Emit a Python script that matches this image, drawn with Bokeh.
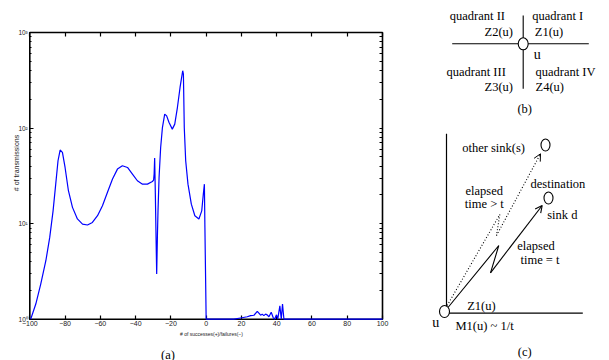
import math
from bokeh.plotting import figure
from bokeh.models import (Range1d, FixedTicker, LinearAxis, LogAxis, LogScale, Arrow, OpenHead)
from bokeh.embed import file_html
from bokeh.resources import INLINE
from bokeh.core.properties import value

# ---------------- panel (a) data ----------------
outcome = [-99.5, -96.6, -93.8, -90.9, -88.7, -86.8, -85.3, -84.0, -82.8, -81.5,
           -80.0, -78.1, -75.8, -73.0, -70.1, -67.3, -64.5, -61.6, -58.8, -56.0,
           -53.1, -50.3, -47.5, -44.6, -41.8, -39.0, -36.1, -33.3, -30.5, -29.8,
           -29.5, -29.2, -28.8, -28.4, -28.05, -27.6, -27.3, -26.7, -25.8, -24.8,
           -23.5, -22.4, -21.1, -19.2, -17.8, -16.3, -14.8, -13.3, -12.9, -12.4,
           -11.6, -10.3, -8.4, -6.4, -4.1, -2.5, -1.6, -1.0, -0.7, 0.0,
           12.0, 15.7, 19.5, 23.3, 25.2, 27.1, 29.0, 29.9, 30.9, 31.8,
           32.7, 33.7, 34.6, 35.6, 36.9, 38.0, 38.8, 39.9, 40.6, 41.8,
           42.6, 43.3, 44.1, 100.0]
transmissions = [1.0, 1.44, 2.33, 4.09, 7.17, 13.6, 25.9, 45.5, 58.9, 55.6,
                 38.7, 22.1, 14.8, 11.2, 9.9, 9.67, 10.3, 12.1, 15.4, 21.2,
                 29.3, 37.2, 40.3, 38.7, 33.0, 28.1, 25.9, 25.9, 27.6, 28.5,
                 33.0, 48.5, 20.0, 7.0, 2.97, 8.0, 13.6, 30.4, 62.6, 101.0,
                 140.0, 134.0, 115.0, 97.5, 110.0, 164.0, 266.0, 398.0, 367.0, 101.0,
                 45.5, 25.9, 16.0, 12.1, 11.2, 13.6, 20.4, 25.9, 9.1, 1.0,
                 1.0, 1.0, 1.03, 1.06, 1.09, 1.10, 1.21, 1.16, 1.10, 1.13,
                 1.09, 1.13, 1.11, 1.06, 1.18, 1.04, 1.0, 1.11, 1.0, 1.38,
                 1.0, 1.44, 1.0, 1.0]

x_min, x_max = -100, 100
y_min, y_max = 1, 1000
x_ticks = [-100, -80, -60, -40, -20, 0, 20, 40, 60, 80, 100]
y_ticks = [1, 10, 100, 1000]
y_tick_labels = ["10\u2070", "10\u00b9", "10\u00b2", "10\u00b3"]
y_minor_ticks = [2, 3, 4, 5, 6, 7, 8, 9, 20, 30, 40, 50, 60, 70, 80, 90,
                 200, 300, 400, 500, 600, 700, 800, 900]
x_label = "# of successes(+)/failures(\u2212)"
y_label = "# of transmissions"

# ---------------- panel (b) / (c) diagram content (page pixel space) ----------------
b_hline_x = [451.7, 588.3]
b_hline_y = [43.3, 43.3]
b_vline_x = [522.7, 522.7]
b_vline_y = [15.0, 88.3]
b_node = (522.7, 43.3)
b_texts = ["quadrant II", "Z2(u)", "quadrant I", "Z1(u)",
           "quadrant III", "Z3(u)", "quadrant IV", "Z4(u)"]
b_tx = [449.3, 484.0, 531.7, 534.3, 446.0, 484.0, 535.0, 535.0]
b_ty = [15.0, 31.7, 15.0, 31.7, 71.0, 86.0, 71.0, 86.0]
b_u = (533.3, 54.3)

c_vaxis_x = [446.0, 446.0]
c_vaxis_y = [133.3, 306.0]
c_haxis_x = [448.3, 582.3]
c_haxis_y = [312.7, 312.7]
c_nodes_x = [444.0, 545.0, 548.0]
c_nodes_y = [311.0, 144.5, 197.5]
c_nodes_w = [10.0, 9.0, 9.0]
c_nodes_h = [12.0, 12.0, 12.0]
solid_x = [447.5, 498.3, 490.0, 541.7]
solid_y = [307.0, 245.0, 272.3, 205.0]
dotted_x = [446.7, 499.3, 496.0, 540.0]
dotted_y = [305.0, 214.0, 235.0, 153.3]
c_texts = ["other sink(s)", "destination", "elapsed", "time > t", "sink d",
           "elapsed", "time = t", "Z1(u)", "M1(u) ~ 1/t"]
c_tx = [461.7, 530.0, 465.0, 464.3, 546.7, 516.7, 520.0, 466.7, 455.0]
c_ty = [147.3, 183.3, 190.0, 203.3, 214.3, 245.0, 259.0, 305.7, 325.0]
c_u = (431.7, 321.7)

panel_labels = ["(a)", "(b)", "(c)"]
panel_lx = [167.5, 524.2, 524.2]
panel_ly = [354.0, 108.3, 351.0]

SERIF = "Liberation Serif"
SANS = "Liberation Sans"

W, H = 609, 360
p = figure(width=W, height=H, x_range=Range1d(0, W), y_range=Range1d(H, 0),
           output_backend="svg", toolbar_location=None, min_border=0,
           x_axis_location=None, y_axis_location=None)
p.grid.visible = False
p.outline_line_color = None

# data space of panel (a): frame box spans x 29..382 px, y 32..318.7 px
px_per_unit = (382.0 - 29.3) / (x_max - x_min)
px_per_decade = (318.7 - 32.0) / 3.0
p.extra_x_ranges = {"ax": Range1d(x_min - 29.3 / px_per_unit, x_max + (W - 382.0) / px_per_unit)}
p.extra_y_ranges = {"ay": Range1d(10 ** (-(H - 318.7) / px_per_decade),
                                  10 ** (3 + 32.0 / px_per_decade))}
p.extra_y_scales = {"ay": LogScale()}

# axes box
p.quad(left=[x_min], right=[x_max], bottom=[y_min], top=[y_max], x_range_name="ax",
       y_range_name="ay", fill_color=None, line_color="black", line_width=1.6)

# the curve (drawn above the axes)
p.line(outcome, transmissions, x_range_name="ax", y_range_name="ay",
       line_color="#0000ff", line_width=1.2, level="annotation")


def base_axis(ax):
    ax.axis_line_color = None
    ax.major_tick_in = 4
    ax.major_tick_out = 0
    ax.major_tick_line_color = "black"
    ax.major_tick_line_width = 1.2
    ax.major_label_standoff = 2
    ax.major_label_text_font = SANS
    ax.major_label_text_color = "#222222"
    ax.minor_tick_in = 2
    ax.minor_tick_out = 0
    ax.minor_tick_line_color = "black"


bx = LinearAxis(x_range_name="ax", y_range_name="ay", fixed_location=y_min,
                bounds=(x_min, x_max), ticker=FixedTicker(ticks=x_ticks))
base_axis(bx)
bx.minor_tick_line_color = None
bx.major_label_text_font_size = "7px"
p.add_layout(bx, "below")

ly = LogAxis(x_range_name="ax", y_range_name="ay", fixed_location=x_min,
             bounds=(y_min, y_max), ticker=FixedTicker(ticks=y_ticks, minor_ticks=y_minor_ticks))
base_axis(ly)
ly.major_label_text_font_size = "6.5px"
ly.major_label_overrides = {t: s for t, s in zip(y_ticks, y_tick_labels)}
p.add_layout(ly, "left")

top = LinearAxis(x_range_name="ax", y_range_name="ay", fixed_location=y_max,
                 bounds=(x_min, x_max), ticker=FixedTicker(ticks=[], minor_ticks=x_ticks))
base_axis(top)
top.minor_tick_in = 4
top.minor_tick_line_width = 1.2
p.add_layout(top, "above")

ry = LogAxis(x_range_name="ax", y_range_name="ay", fixed_location=x_max,
             bounds=(y_min, y_max), ticker=FixedTicker(ticks=[], minor_ticks=y_ticks + y_minor_ticks))
base_axis(ry)
ry.minor_tick_in = 3
p.add_layout(ry, "right")

# axis titles of (a)
p.text(x=[211.0], y=[333.0], text=[x_label], text_font=value(SANS), text_font_size="5px",
       text_align="center", text_baseline="middle", text_color="#222222")
p.text(x=[15.7], y=[162.5], text=[y_label], angle=math.pi / 2, text_font=value(SANS),
       text_font_size="7px", text_align="center", text_baseline="middle", text_color="#222222")

# (b)
p.line(b_hline_x, b_hline_y, line_color="black", line_width=1.1)
p.line(b_vline_x, b_vline_y, line_color="black", line_width=1.1)
p.ellipse(x=[b_node[0]], y=[b_node[1]], width=10, height=12, fill_color="white",
          line_color="black", line_width=1.1)
p.text(x=b_tx, y=b_ty, text=b_texts, text_font=value(SERIF), text_font_size="12.5px",
       text_align="left", text_baseline="middle", text_color="black")
p.text(x=[b_u[0]], y=[b_u[1]], text=["u"], text_font=value(SERIF), text_font_size="14px",
       text_align="left", text_baseline="middle", text_color="black")

# (c)
p.line(c_vaxis_x, c_vaxis_y, line_color="black", line_width=1.2)
p.line(c_haxis_x, c_haxis_y, line_color="black", line_width=1.2)
p.line(solid_x[:3], solid_y[:3], line_color="black", line_width=1.1)
p.add_layout(Arrow(end=OpenHead(size=7, line_width=1.1), x_start=solid_x[2], y_start=solid_y[2],
                   x_end=solid_x[3], y_end=solid_y[3], line_width=1.1, line_color="black"))
p.line(dotted_x[:3], dotted_y[:3], line_color="black", line_width=1.1, line_dash="1 2")
p.add_layout(Arrow(end=OpenHead(size=7, line_width=1.0), x_start=dotted_x[2], y_start=dotted_y[2],
                   x_end=dotted_x[3], y_end=dotted_y[3], line_width=1.1, line_color="black",
                   line_dash="1 2"))
p.ellipse(x=c_nodes_x, y=c_nodes_y, width=c_nodes_w, height=c_nodes_h, fill_color="white",
          line_color="black", line_width=1.1)
p.text(x=c_tx, y=c_ty, text=c_texts, text_font=value(SERIF), text_font_size="12.5px",
       text_align="left", text_baseline="middle", text_color="black")
p.text(x=[c_u[0]], y=[c_u[1]], text=["u"], text_font=value(SERIF), text_font_size="14px",
       text_align="left", text_baseline="middle", text_color="black")

# panel captions
p.text(x=panel_lx, y=panel_ly, text=panel_labels, text_font=value(SERIF), text_font_size="12.5px",
       text_align="center", text_baseline="middle", text_color="black")

open("out.html", "w").write(file_html(p, INLINE))
